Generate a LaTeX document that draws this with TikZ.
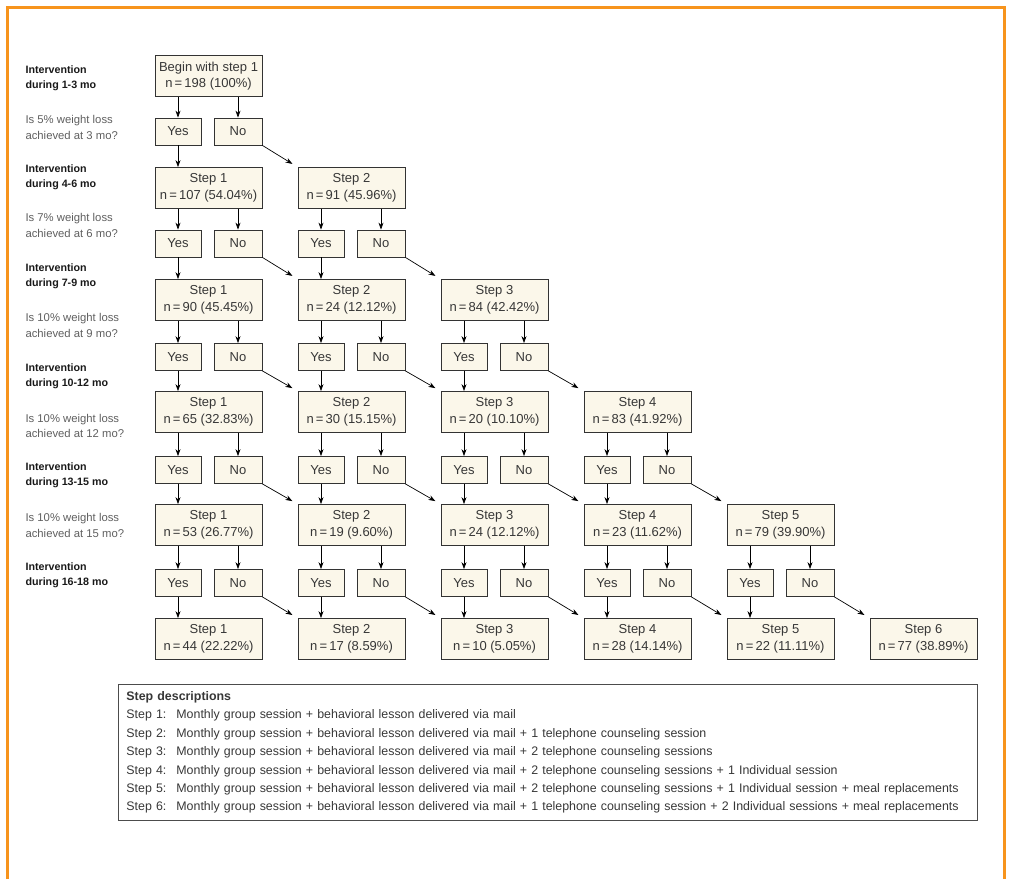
\documentclass[tikz,border=0pt]{standalone}
\usepackage{fontspec}
\setmainfont{Liberation Sans}
\usetikzlibrary{arrows.meta}
\definecolor{boxfill}{RGB}{251,247,234}
\definecolor{framecol}{RGB}{247,148,29}
\definecolor{textgray}{RGB}{55,55,55}
\definecolor{askgray}{RGB}{95,95,95}

\begin{document}
\begin{tikzpicture}[x=1pt,y=-1pt,
    >={Stealth[length=7pt,width=5pt]},
    stepbox/.style={draw=black!80,fill=boxfill,line width=0.8pt,minimum width=107pt,minimum height=41pt,align=center,text=textgray,font=\fontsize{13}{16.5}\selectfont},
    answer/.style={draw=black!80,fill=boxfill,line width=0.8pt,minimum width=46pt,minimum height=27pt,text=textgray,font=\fontsize{13}{15}\selectfont},
    period/.style={anchor=west,align=left,text=black!90,font=\bfseries\fontsize{10.7}{15}\selectfont},
    question/.style={anchor=west,align=left,text=askgray,font=\fontsize{11.3}{15.5}\selectfont},
    link/.style={->,line width=0.7pt}]

  \useasboundingbox (0,0) rectangle (1009,879);
  \draw[framecol,line width=3pt] (7.5,879) -- (7.5,7.5) -- (1004.5,7.5) -- (1004.5,879);

  % labels on the left
  \node[period] (p1) at (22,78) {Intervention\\during 1-3 mo};
  \node[question] (q1) at (22,127.5) {Is 5\% weight loss\\achieved at 3 mo?};
  \node[period] (p2) at (22,177.5) {Intervention\\during 4-6 mo};
  \node[question] (q2) at (22,225.5) {Is 7\% weight loss\\achieved at 6 mo?};
  \node[period] (p3) at (22,276.5) {Intervention\\during 7-9 mo};
  \node[question] (q3) at (22,325.5) {Is 10\% weight loss\\achieved at 9 mo?};
  \node[period] (p4) at (22,376) {Intervention\\during 10-12 mo};
  \node[question] (q4) at (22,426) {Is 10\% weight loss\\achieved at 12 mo?};
  \node[period] (p5) at (22,475.5) {Intervention\\during 13-15 mo};
  \node[question] (q5) at (22,525.5) {Is 10\% weight loss\\achieved at 15 mo?};
  \node[period] (p6) at (22,575) {Intervention\\during 16-18 mo};

  % steps
  \node[stepbox] (s01) at (208.5,76) {Begin with step 1\\n\,=\,198 (100\%)};

  \node[stepbox] (s11) at (208.5,188) {Step 1\\n\,=\,107 (54.04\%)};
  \node[stepbox] (s12) at (351.5,188) {Step 2\\n\,=\,91 (45.96\%)};

  \node[stepbox] (s21) at (208.5,300) {Step 1\\n\,=\,90 (45.45\%)};
  \node[stepbox] (s22) at (351.5,300) {Step 2\\n\,=\,24 (12.12\%)};
  \node[stepbox] (s23) at (494.5,300) {Step 3\\n\,=\,84 (42.42\%)};

  \node[stepbox] (s31) at (208.5,412) {Step 1\\n\,=\,65 (32.83\%)};
  \node[stepbox] (s32) at (351.5,412) {Step 2\\n\,=\,30 (15.15\%)};
  \node[stepbox] (s33) at (494.5,412) {Step 3\\n\,=\,20 (10.10\%)};
  \node[stepbox] (s34) at (637.5,412) {Step 4\\n\,=\,83 (41.92\%)};

  \node[stepbox] (s41) at (208.5,525) {Step 1\\n\,=\,53 (26.77\%)};
  \node[stepbox] (s42) at (351.5,525) {Step 2\\n\,=\,19 (9.60\%)};
  \node[stepbox] (s43) at (494.5,525) {Step 3\\n\,=\,24 (12.12\%)};
  \node[stepbox] (s44) at (637.5,525) {Step 4\\n\,=\,23 (11.62\%)};
  \node[stepbox] (s45) at (780.5,525) {Step 5\\n\,=\,79 (39.90\%)};

  \node[stepbox] (s51) at (208.5,639) {Step 1\\n\,=\,44 (22.22\%)};
  \node[stepbox] (s52) at (351.5,639) {Step 2\\n\,=\,17 (8.59\%)};
  \node[stepbox] (s53) at (494.5,639) {Step 3\\n\,=\,10 (5.05\%)};
  \node[stepbox] (s54) at (637.5,639) {Step 4\\n\,=\,28 (14.14\%)};
  \node[stepbox] (s55) at (780.5,639) {Step 5\\n\,=\,22 (11.11\%)};
  \node[stepbox] (s56) at (923.5,639) {Step 6\\n\,=\,77 (38.89\%)};

  % yes / no under every step
  \foreach \r/\yy in {0/131.5,1/243.5,2/357,3/470,4/583}{
    \pgfmathtruncatemacro\last{\r+1}
    \pgfmathtruncatemacro\nr{\r+1}
    \foreach \c in {1,...,\last}{
      \pgfmathsetmacro\xx{208.5+143*(\c-1)}
      \pgfmathtruncatemacro\nc{\c+1}
      \node[answer] (y\r\c) at (\xx-30.5,\yy) {Yes};
      \node[answer,minimum width=48pt] (n\r\c) at (\xx+29.5,\yy) {No};
      \draw[link] (s\r\c.south -| y\r\c) -- (y\r\c);
      \draw[link] (s\r\c.south -| n\r\c) -- (n\r\c);
      \draw[link] (y\r\c) -- (y\r\c |- s\nr\c.north);
      \draw[link,shorten >=6pt] (n\r\c.south east) -- (s\nr\nc.north west);
    }
  }

  % legend
  \node[draw=black!70,line width=0.8pt,anchor=north west,minimum height=136pt,
        inner xsep=8pt,text width=843pt,align=left,text=textgray,
        font=\fontsize{12.4}{18.4}\selectfont] (legend) at (118,684) {%
    \textbf{Step descriptions}\\
    \makebox[50pt][l]{Step 1:}Monthly group session + behavioral lesson delivered via mail\\
    \makebox[50pt][l]{Step 2:}Monthly group session + behavioral lesson delivered via mail + 1 telephone counseling session\\
    \makebox[50pt][l]{Step 3:}Monthly group session + behavioral lesson delivered via mail + 2 telephone counseling sessions\\
    \makebox[50pt][l]{Step 4:}Monthly group session + behavioral lesson delivered via mail + 2 telephone counseling sessions + 1 Individual session\\
    \makebox[50pt][l]{Step 5:}Monthly group session + behavioral lesson delivered via mail + 2 telephone counseling sessions + 1 Individual session + meal replacements\\
    \makebox[50pt][l]{Step 6:}Monthly group session + behavioral lesson delivered via mail + 1 telephone counseling session + 2 Individual sessions + meal replacements};
\end{tikzpicture}
\end{document}
